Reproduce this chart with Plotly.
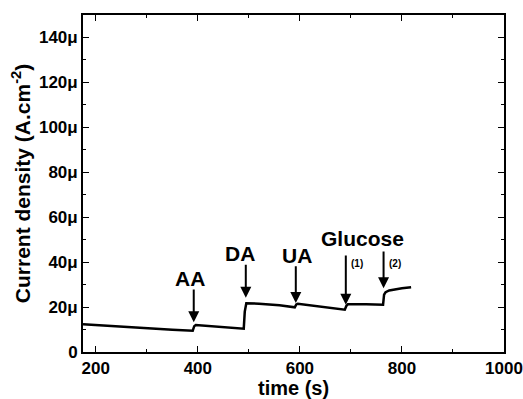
import plotly.graph_objects as go

time_s = [175, 250, 300, 350, 390, 393, 396, 450, 490, 492, 495, 520, 560, 590, 593, 596,
          640, 688, 691, 694, 730, 763, 765, 768, 775, 785, 800, 818]
current_uA = [12.3, 11.2, 10.5, 9.9, 9.5, 11.5, 12.0, 11.2, 10.4, 18.0, 21.7, 21.5, 20.8, 19.9,
              21.2, 21.5, 20.2, 18.8, 20.5, 21.2, 21.2, 21.0, 25.5, 26.6, 27.4, 27.9, 28.4, 28.8]

x_ticks = [200, 400, 600, 800, 1000]
y_ticks = [0, 20, 40, 60, 80, 100, 120, 140]
y_ticktext = ["0", "20μ", "40μ", "60μ", "80μ", "100μ", "120μ", "140μ"]

# arrows: x, tail y, head y
arrow_x = [392, 494, 592, 690, 764]
arrow_tail = [28.5, 39.5, 38.8, 43.6, 45.4]
arrow_head = [13.2, 24.2, 21.8, 21.0, 28.4]

labels = ["AA", "DA", "UA", "Glucose"]
label_x = [385, 483, 594, 722]
label_y = [32.8, 43.8, 42.8, 50.5]

sub_labels = ["(1)", "(2)"]
sub_x = [712, 787]
sub_y = [39.5, 39.2]

FONT = "Liberation Sans, Arial"

fig = go.Figure()
fig.add_trace(go.Scatter(x=time_s, y=current_uA, mode="lines",
                         line=dict(color="black", width=2.5), showlegend=False,
                         hoverinfo="skip"))

anns = []
for ax_, ty, hy in zip(arrow_x, arrow_tail, arrow_head):
    anns.append(dict(x=ax_, y=hy, ax=ax_, ay=ty, xref="x", yref="y", axref="x", ayref="y",
                     showarrow=True, arrowhead=2, arrowsize=1.1, arrowwidth=2,
                     arrowcolor="black", text=""))
for lab, tx, tyy in zip(labels, label_x, label_y):
    anns.append(dict(x=tx, y=tyy, xref="x", yref="y", text="<b>%s</b>" % lab,
                     showarrow=False, font=dict(size=21, color="black", family=FONT)))
for lab, sx, sy in zip(sub_labels, sub_x, sub_y):
    anns.append(dict(x=sx, y=sy, xref="x", yref="y", text="<b>%s</b>" % lab,
                     showarrow=False, font=dict(size=10, color="black", family=FONT)))
# x-axis title placed as an annotation just under the tick labels
anns.append(dict(x=0.5, y=-0.108, xref="paper", yref="paper", yanchor="middle",
                 text="<b>time (s)</b>", showarrow=False,
                 font=dict(size=20, color="black", family=FONT)))

fig.update_layout(
    width=523, height=399,
    margin=dict(l=83, r=19, t=15, b=47),
    plot_bgcolor="white", paper_bgcolor="white",
    font=dict(family=FONT, color="black"),
    annotations=anns,
    xaxis=dict(range=[175, 1000], tickvals=x_ticks, ticks="inside", ticklen=6,
               tickwidth=1, tickcolor="black", showline=True, linecolor="black",
               linewidth=1.8, mirror="ticks", showgrid=False, zeroline=False,
               automargin=False,
               tickfont=dict(size=17, family=FONT, weight="bold"),
               minor=dict(ticks="inside", ticklen=3, dtick=100, tickcolor="black")),
    yaxis=dict(range=[0, 150], tickvals=y_ticks, ticktext=y_ticktext, ticks="inside",
               ticklen=6, tickwidth=1, tickcolor="black", showline=True, linecolor="black",
               linewidth=1.8, mirror="ticks", showgrid=False, zeroline=False,
               automargin=False,
               tickfont=dict(size=17, family=FONT, weight="bold"),
               minor=dict(ticks="inside", ticklen=3, dtick=10, tickcolor="black"),
               title=dict(text="<b>Current density (A.cm<sup>-2</sup>)</b>",
                          font=dict(size=21), standoff=3)),
)

fig.write_html("out.html")
